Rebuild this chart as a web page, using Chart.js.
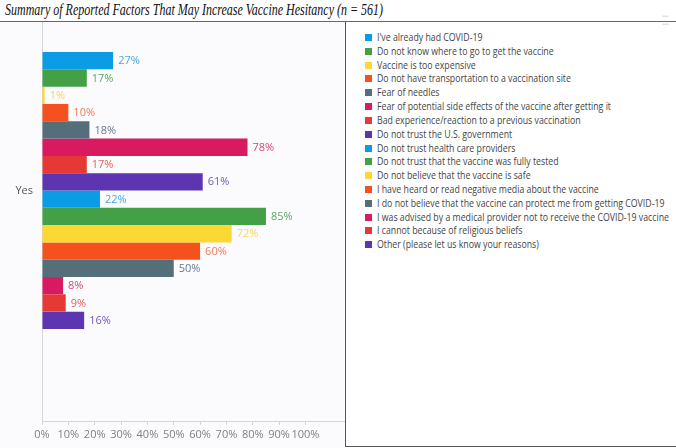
<!DOCTYPE html>
<html>
<head>
<meta charset="utf-8">
<script src="https://cdn.jsdelivr.net/npm/chart.js@4.4.0/dist/chart.umd.min.js"></script>
<style>
  html, body { margin:0; padding:0; background:#fff; }
  #wrap { position:relative; width:676px; height:448px; overflow:hidden; background:#fff; }
  #title { position:absolute; left:5px; top:0px; font-family:"Liberation Serif","DejaVu Serif",serif; font-style:italic; font-size:17px; color:#111; white-space:nowrap; transform-origin:0 0; }
  #hline { position:absolute; left:0; top:21px; width:676px; height:1px; background:#666; }
  #leftbg { position:absolute; left:0; top:22px; width:345px; height:426px; background:#fbfbfd; }
  #vline { position:absolute; left:345px; top:22px; width:1px; height:425px; background:#555; }
  #bline { position:absolute; left:345px; top:446px; width:331px; height:1px; background:#555; }
  #dash { position:absolute; left:662px; top:12px; font-family:"DejaVu Sans",sans-serif; font-size:7px; color:#aaa; }
  #chartbox { position:absolute; left:0; top:22px; width:345px; height:426px; }
  #legend { position:absolute; left:365px; top:31px; font-family:"Open Sans","Noto Sans",sans-serif; font-size:10px; color:#444; }
  .li { position:relative; height:13.82px; white-space:nowrap; }
  .sq { position:absolute; left:0; top:3px; width:7px; height:7px; }
  .tx { position:absolute; left:12px; top:-1px; transform-origin:0 50%; }
</style>
</head>
<body>
<div id="wrap">
  <div id="title">Summary of Reported Factors That May Increase Vaccine Hesitancy (n = 561)</div>
  <div id="hline"></div>
  <div id="leftbg"></div>
  <div id="dash">— —</div>
  <div id="chartbox"><canvas id="c" width="345" height="426"></canvas></div>
  <div id="vline"></div>
  <div id="bline"></div>
  <div id="legend"></div>
</div>
<script>
const categories = ["Yes"];
const factors = [
  "I've already had COVID-19",
  "Do not know where to go to get the vaccine",
  "Vaccine is too expensive",
  "Do not have transportation to a vaccination site",
  "Fear of needles",
  "Fear of potential side effects of the vaccine after getting it",
  "Bad experience/reaction to a previous vaccination",
  "Do not trust the U.S. government",
  "Do not trust health care providers",
  "Do not trust that the vaccine was fully tested",
  "Do not believe that the vaccine is safe",
  "I have heard or read negative media about the vaccine",
  "I do not believe that the vaccine can protect me from getting COVID-19",
  "I was advised by a medical provider not to receive the COVID-19 vaccine",
  "I cannot because of religious beliefs",
  "Other (please let us know your reasons)"
];
const percents = [27, 17, 1, 10, 18, 78, 17, 61, 22, 85, 72, 60, 50, 8, 9, 16];
const colors = ["#0a9de6","#43a047","#fdd835","#f4511e","#546e7a","#d81b60","#e53935","#5e35b1",
                "#0a9de6","#43a047","#fdd835","#f4511e","#546e7a","#d81b60","#e53935","#5e35b1"];
const labelColors = ["#4aa8e0","#5fa85f","#f6d75a","#ee7a5a","#67798a","#d6457a","#e2605c","#7459b8",
                     "#4aa8e0","#5fa85f","#f6d75a","#ee7a5a","#67798a","#d6457a","#e2605c","#7459b8"];
const xTicks = [0,10,20,30,40,50,60,70,80,90,100];

// single category placed at position 0 on the index axis
const datasets = factors.map((f, i) => ({
  label: f,
  data: [{ x: percents[i], y: 0 }],
  backgroundColor: colors[i],
  borderWidth: 0,
  barPercentage: 1.0,
  categoryPercentage: 0.694
}));

const valueLabels = {
  id: 'valueLabels',
  afterDatasetsDraw(chart) {
    const ctx = chart.ctx;
    ctx.save();
    ctx.font = '11px "Open Sans", "Noto Sans", sans-serif';
    ctx.textBaseline = 'middle';
    ctx.textAlign = 'left';
    chart.data.datasets.forEach((ds, i) => {
      const meta = chart.getDatasetMeta(i);
      meta.data.forEach((el, j) => {
        ctx.fillStyle = labelColors[i];
        ctx.fillText(ds.data[j].x + '%', el.x + 5, el.y + 0.5);
      });
    });
    ctx.restore();
  }
};

new Chart(document.getElementById('c'), {
  type: 'bar',
  data: { labels: categories, datasets },
  options: {
    indexAxis: 'y',
    responsive: false,
    animation: false,
    layout: { padding: 0 },
    plugins: { legend: { display: false }, tooltip: { enabled: false } },
    scales: {
      x: {
        type: 'linear',
        min: 0, max: 115,
        ticks: {
          color: '#808080',
          padding: 3,
          maxRotation: 0, minRotation: 0, autoSkip: false,
          font: { size: 11, family: '"Open Sans", "Noto Sans", sans-serif' },
          callback: v => v + '%'
        },
        afterBuildTicks: s => { s.ticks = xTicks.map(v => ({ value: v })); },
        afterFit: s => { s.height = 27; },
        grid: { display: true, drawOnChartArea: false, drawTicks: true, tickLength: 4, color: '#d6d6d6' },
        border: { display: true, color: '#d6d6d6' }
      },
      y: {
        type: 'linear',
        offset: false,
        min: -1, max: 0.731,
        ticks: {
          color: '#555', padding: 9,
          font: { size: 11, family: '"Open Sans", "Noto Sans", sans-serif' },
          callback: (v, i) => categories[i]
        },
        afterBuildTicks: s => { s.ticks = categories.map((c, i) => ({ value: i })); },
        afterFit: s => { s.width = 42; s.paddingTop = 0; s.paddingBottom = 0; },
        grid: { display: false, drawTicks: false, offset: false },
        border: { display: true, color: '#d6d6d6' }
      }
    }
  },
  plugins: [valueLabels]
});

const lg = document.getElementById('legend');
factors.forEach((f, i) => {
  const d = document.createElement('div');
  d.className = 'li';
  d.innerHTML = '<span class="sq" style="background:' + colors[i] + '"></span><span class="tx">' + f.replace(/&/g,'&amp;') + '</span>';
  lg.appendChild(d);
});
const longest = lg.children[13].querySelector('.tx');
const sx = 292 / longest.getBoundingClientRect().width;
lg.querySelectorAll('.tx').forEach(t => t.style.transform = 'scaleX(' + sx + ')');
const title = document.getElementById('title');
title.style.transform = 'scaleX(' + (378 / title.getBoundingClientRect().width) + ')';
</script>
</body>
</html>
